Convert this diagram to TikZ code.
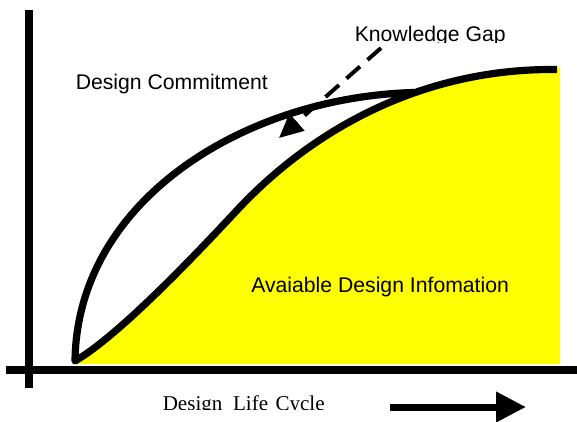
\documentclass[tikz,border=0pt]{standalone}
\usepackage{fontspec}
\setmainfont{Liberation Sans}
\newfontfamily\serifface{Liberation Serif}
\usepackage{tikz}
\usetikzlibrary{arrows.meta}
\definecolor{infoyellow}{HTML}{FFFF00}
\tikzset{
  % axlar
  axis/.style={draw=black,line width=6pt},
  % kurvor
  curve/.style={draw=black,line width=5.4pt,line join=round},
  infofill/.style={fill=infoyellow},
  gaparrow/.style={draw=black,line width=3pt,dash pattern=on 13.5pt off 7.5pt,
                   -{Triangle[length=18pt,width=16.5pt]}},
  cyclearrow/.style={draw=black,line width=5.25pt,
                     -{Triangle[length=22.5pt,width=21.75pt]}},
  % text
  lbl/.style={inner sep=0pt,font=\fontsize{15.9}{19}\selectfont},
  serlbl/.style={inner sep=0pt,font=\serifface\fontsize{15.8}{18}\selectfont},
}

\begin{document}
\begin{tikzpicture}[x=0.75pt,y=-0.75pt]
  \useasboundingbox (0,0) rectangle (577,421);
  \coordinate (o) at (75,361);
  \coordinate (bend) at (240,207);
  \coordinate (merge) at (414,92.5);
  \coordinate (infoend) at (557,69.5);
  % gult område under informationskurvan
  \fill[infofill] (o) .. controls (120,335) and (200,250) .. (bend)
    .. controls (320,123) and (430,68) .. (infoend)
    -- (560,66) -- (560,364) -- (75,364) -- cycle;
  % axlar
  \draw[axis] (29,10) -- (29,388);
  \draw[axis] (6,370) -- (577,370);
  % åtagande och information
  \draw[curve] (merge) .. controls (245,97) and (77,200) .. (o)
    .. controls (120,335) and (200,250) .. (bend)
    .. controls (320,123) and (430,68) .. (infoend);
  % text
  \node[lbl,anchor=base west] (commit) at (75.5,89) {Design Commitment};
  \node[lbl,anchor=base west] (avail) at (251,292) {Avaiable Design Infomation};
  \begin{scope}
    \clip (0,0) rectangle (577,42.5);
    \node[lbl,anchor=base west] (gaplbl) at (354.5,41.5) {Knowledge Gap};
  \end{scope}
  \begin{scope}
    \clip (0,0) rectangle (577,409);
    \node[serlbl,anchor=base west] (cycle) at (162.5,410.5)
      {Design\hspace{8pt}Life\hspace{5.5pt}Cycle};
  \end{scope}
  % pilar
  \coordinate (gapstart) at (381,48);
  \coordinate (gaptip) at (279,138);
  \draw[gaparrow] (gapstart) -- (gaptip);
  \coordinate (cyclestart) at (390,407);
  \coordinate (cycleend) at (526,407);
  \draw[cyclearrow] (cyclestart) -- (cycleend);
\end{tikzpicture}
\end{document}
